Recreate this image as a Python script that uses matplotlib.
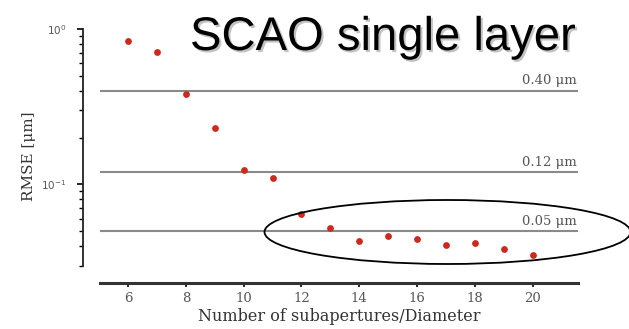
import numpy as np
import matplotlib
matplotlib.use("Agg")
import matplotlib.pyplot as plt
import matplotlib.patheffects as pe
from matplotlib.patches import Ellipse
from matplotlib.ticker import LogLocator, NullFormatter

# data
n_sub = [6, 7, 8, 9, 10, 11, 12, 13, 14, 15, 16, 17, 18, 19, 20]
rmse = [0.84, 0.71, 0.383, 0.23, 0.123, 0.110, 0.064, 0.052, 0.0435,
        0.0464, 0.0446, 0.041, 0.0418, 0.0383, 0.0352]
ref_levels = [0.40, 0.12, 0.05]
ref_labels = ["0.40 μm", "0.12 μm", "0.05 μm"]
x_ticks = [6, 8, 10, 12, 14, 16, 18, 20]

fig = plt.figure(figsize=(6.29, 3.29), dpi=100)
ax = fig.add_axes([0.159, 0.140, 0.760, 0.772])

serif = "DejaVu Serif"

# reference lines with labels at right end
for lev, lab in zip(ref_levels, ref_labels):
    ax.axhline(lev, color="#8a8a8a", lw=1.5, zorder=1)
    ax.text(0.998, lev * 1.05, lab, transform=ax.get_yaxis_transform(),
            ha="right", va="bottom", fontsize=9.5, color="#555555",
            family=serif)

ax.scatter(n_sub, rmse, s=24, color="#cc2a1e", zorder=3, linewidths=0)

ax.set_yscale("log")
ax.set_ylim(0.0232, 1.0)
ax.set_xlim(5.03, 21.57)

# spines: detached left axis, thick bottom axis
for s in ["top", "right"]:
    ax.spines[s].set_visible(False)
ax.spines["left"].set_position(("outward", 12))
ax.spines["left"].set_bounds(0.03, 1.0)
ax.spines["left"].set_linewidth(1.3)
ax.spines["left"].set_color("#222222")
ax.spines["bottom"].set_linewidth(2.2)
ax.spines["bottom"].set_color("#333333")

ax.yaxis.set_minor_locator(LogLocator(base=10, subs=np.arange(2, 10), numticks=10))
ax.yaxis.set_minor_formatter(NullFormatter())
ax.set_yticks([0.1, 1.0])
ax.set_yticklabels([r"$10^{-1}$", r"$10^{0}$"])
ax.tick_params(axis="y", which="major", length=4, width=1.2, labelsize=7.5,
               labelcolor="#555555", pad=8)
ax.tick_params(axis="y", which="minor", length=3, width=1.0)

ax.set_xticks(x_ticks)
ax.tick_params(axis="x", length=3, width=1.2, labelsize=9.5, labelcolor="#555555",
               pad=3.5)
for t in ax.get_xticklabels():
    t.set_family(serif)

ax.set_xlabel("Number of subapertures/Diameter", family=serif, fontsize=11.5,
              color="#333333", labelpad=2)
ax.set_ylabel("RMSE [μm]", family=serif, fontsize=11, color="#333333",
              labelpad=4)

# title with soft shadow
fig.text(0.302, 0.848, "SCAO single layer", fontsize=34, family="Liberation Sans",
         color="black",
         path_effects=[pe.withSimplePatchShadow(offset=(1.5, -1.5),
                                                shadow_rgbFace="#9a9a9a",
                                                alpha=0.6)])

# ellipse annotation (figure inches)
ell = Ellipse((4.475, 0.97), 3.66, 0.64, transform=fig.dpi_scale_trans,
              fill=False, edgecolor="black", lw=1.3, clip_on=False)
fig.patches.append(ell)

fig.savefig("out.png", dpi=100)
